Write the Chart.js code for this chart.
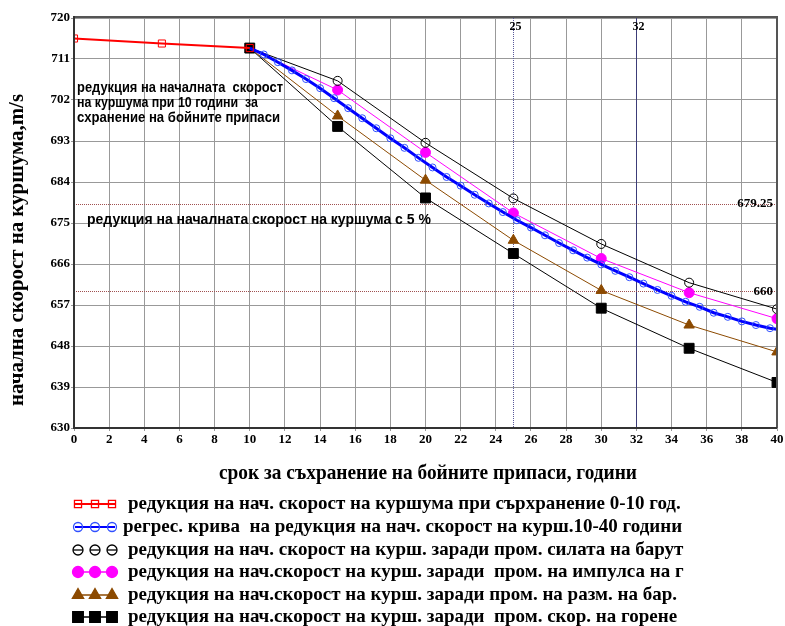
<!DOCTYPE html>
<html><head><meta charset="utf-8">
<script src="https://cdn.jsdelivr.net/npm/chart.js@4/dist/chart.umd.min.js"></script>
<style>html,body{margin:0;padding:0;background:#fff;overflow:hidden}</style>
</head><body>
<canvas id="c" width="785" height="626"></canvas>
<script>
// ---- data ----
const xTickStep = 2;            // x tick labels 0,2,...,40
const yTickStep = 9;            // y tick labels 630,639,...,720
const xMin = 0, xMax = 40, yMin = 630, yMax = 720;

const redX = [0, 5, 10];
const redY = [715.5, 714.4, 713.4];

const blueX = [10,10.8,11.6,12.4,13.2,14,14.8,15.6,16.4,17.2,18,18.8,19.6,20.4,21.2,22,22.8,23.6,24.4,25.2,26,26.8,27.6,28.4,29.2,30,30.8,31.6,32.4,33.2,34,34.8,35.6,36.4,37.2,38,38.8,39.6,40];
const blueY = [713.4,712.0,710.3,708.5,706.6,704.6,702.4,700.2,698.0,695.8,693.6,691.5,689.3,687.2,685.1,683.2,681.2,679.3,677.4,675.6,674.0,672.3,670.6,669.0,667.4,665.9,664.5,663.1,661.7,660.3,659.0,657.7,656.6,655.3,654.4,653.4,652.6,651.9,651.7];

const yearsX  = [10, 15, 20, 25, 30, 35, 40];
const powderY  = [713.4, 706.2, 692.6, 680.4, 670.4, 661.9, 656.1];
const impulseY = [713.4, 704.2, 690.5, 677.2, 667.2, 659.7, 654.0];
const sizeY    = [713.4, 698.5, 684.4, 671.2, 660.2, 652.6, 646.7];
const burnY    = [713.4, 696.2, 680.5, 668.3, 656.3, 647.5, 640.0];

const refVX = [25, 32];
const refVLabels = ['25', '32'];
const refHY = [679.25, 660];
const refHLabels = ['679.25', '660'];

const legendLabels = [
  'редукция на нач. скорост на куршума при сърхранение 0-10 год.',
  'регрес. крива  на редукция на нач. скорост на курш.10-40 години',
  'редукция на нач. скорост на курш. заради пром. силата на барут',
  'редукция на нач.скорост на курш. заради  пром. на импулса на г',
  'редукция на нач.скорост на курш. заради пром. на разм. на бар.',
  'редукция на нач.скорост на курш. заради  пром. скор. на горене'
];
const noteLines = ['редукция на началната  скорост', 'на куршума при 10 години  за', 'схранение на бойните припаси'];
const note5 = 'редукция на началната скорост на куршума с 5 %';
const xTitle = 'срок за съхранение на бойните припаси, години';
const yTitle = 'начална скорост на куршума,m/s';

// ---- build ----
const zip = (xs, ys) => xs.map((x, i) => ({x, y: ys[i]}));
const SERIF = '"Liberation Serif", "Times New Roman", serif';
const SANS = '"Liberation Sans", Arial, sans-serif';
const BROWN = '#8c4a00';

const skipFirst = r => (ctx => ctx.dataIndex === 0 ? 0 : r);

const datasets = [
  {label: legendLabels[0], data: zip(redX, redY), borderColor: '#ff0000', borderWidth: 2,
   pointStyle: 'rect', pointRadius: 5, pointBorderColor: '#ff0000', pointBackgroundColor: 'rgba(0,0,0,0)', pointBorderWidth: 1},
  {label: legendLabels[1], data: zip(blueX, blueY), borderColor: '#0000ff', borderWidth: 3,
   pointStyle: 'circle', pointRadius: ctx => (ctx.dataIndex === 0 || ctx.dataIndex === blueX.length - 1) ? 0 : 3.5,
   pointBorderColor: '#3050ff', pointBackgroundColor: 'rgba(0,0,0,0)', pointBorderWidth: 1},
  {label: legendLabels[2], data: zip(yearsX, powderY), borderColor: '#000', borderWidth: 1,
   pointStyle: 'circle', pointRadius: skipFirst(4.5), pointBorderColor: '#000', pointBackgroundColor: 'rgba(0,0,0,0)', pointBorderWidth: 1},
  {label: legendLabels[3], data: zip(yearsX, impulseY), borderColor: '#ff00ff', borderWidth: 1,
   pointStyle: 'circle', pointRadius: skipFirst(5), pointBorderColor: '#ff00ff', pointBackgroundColor: '#ff00ff', pointBorderWidth: 1},
  {label: legendLabels[4], data: zip(yearsX, sizeY), borderColor: BROWN, borderWidth: 1,
   pointStyle: 'triangle', pointRadius: skipFirst(6), pointBorderColor: BROWN, pointBackgroundColor: BROWN, pointBorderWidth: 1},
  {label: legendLabels[5], data: zip(yearsX, burnY), borderColor: '#000', borderWidth: 1,
   pointStyle: 'rect', pointRadius: 7, pointBorderColor: '#000', pointBackgroundColor: '#000', pointBorderWidth: 1}
];
const legendRadius = [5, 4.5, 5, 5.5, 6.5, 7.5];

const extras = {
  id: 'extras',
  beforeDatasetsDraw(chart) {
    const {ctx, chartArea: a, scales: {x, y}} = chart;
    ctx.save();
    refVX.forEach((v, i) => {
      const px = Math.round(x.getPixelForValue(v)) + 0.5;
      ctx.beginPath();
      ctx.strokeStyle = i === 0 ? '#5a5a9a' : '#3c3c78';
      ctx.lineWidth = 1;
      ctx.setLineDash(i === 0 ? [1, 1] : []);
      ctx.moveTo(px, a.top); ctx.lineTo(px, a.bottom); ctx.stroke();
    });
    refHY.forEach(v => {
      const py = Math.round(y.getPixelForValue(v)) + 0.5;
      ctx.beginPath();
      ctx.strokeStyle = '#a05050';
      ctx.lineWidth = 1;
      ctx.setLineDash([1, 1]);
      ctx.moveTo(a.left, py); ctx.lineTo(a.right, py); ctx.stroke();
    });
    ctx.setLineDash([]);
    ctx.restore();
  },
  afterDraw(chart) {
    const {ctx, chartArea: a, scales: {x, y}} = chart;
    ctx.save();
    // frame
    ctx.strokeStyle = '#555';
    ctx.lineWidth = 2;
    ctx.beginPath();
    ctx.moveTo(a.left, a.top - 1); ctx.lineTo(a.right, a.top - 1); ctx.lineTo(a.right, a.bottom);
    ctx.stroke();
    ctx.strokeStyle = '#333';
    ctx.beginPath();
    ctx.moveTo(a.left, a.top - 2); ctx.lineTo(a.left, a.bottom); ctx.lineTo(a.right, a.bottom);
    ctx.stroke();

    ctx.fillStyle = '#000';
    ctx.textBaseline = 'middle';
    ctx.font = 'bold 12px ' + SERIF;
    ctx.textAlign = 'center';
    refVX.forEach((v, i) => ctx.fillText(refVLabels[i], x.getPixelForValue(v) + 2, a.top + 9));
    ctx.font = 'bold 13px ' + SERIF;
    ctx.textAlign = 'right';
    refHY.forEach((v, i) => ctx.fillText(refHLabels[i], a.right - 4, y.getPixelForValue(v)));

    // notes
    ctx.textAlign = 'left';
    ctx.font = 'bold 14px ' + SANS;
    const noteY = [88, 103, 118];
    const noteW = [206, 181, 203];
    noteLines.forEach((t, i) => ctx.fillText(t, 77, noteY[i], noteW[i]));
    ctx.fillText(note5, 87, 220, 348);

    // axis titles
    ctx.font = 'bold 21px ' + SERIF;
    ctx.textAlign = 'center';
    ctx.fillText(xTitle, 428, 474, 418);
    ctx.save();
    ctx.translate(18, 250);
    ctx.rotate(-Math.PI / 2);
    ctx.fillText(yTitle, 0, 0, 312);
    ctx.restore();

    // legend
    const rowY = [504, 527, 550, 572, 595, 617];
    const textX = [128, 123, 128, 128, 128, 128];
    const textR = [687, 690, 687, 685, 682, 685];
    const mx = [78, 95, 112];
    ctx.textAlign = 'left';
    ctx.font = 'bold 19px ' + SERIF;
    datasets.forEach((d, i) => {
      const yy = rowY[i];
      if (i !== 2) {
        ctx.beginPath();
        ctx.strokeStyle = d.borderColor;
        ctx.lineWidth = (i === 0 || i === 1) ? 2 : 1.5;
        ctx.moveTo(75, yy); ctx.lineTo(115, yy); ctx.stroke();
      }
      mx.forEach(px => {
        ctx.fillStyle = d.pointBackgroundColor;
        ctx.strokeStyle = d.pointBorderColor;
        ctx.lineWidth = 1.3;
        Chart.helpers.drawPoint(ctx, {pointStyle: d.pointStyle, radius: legendRadius[i], rotation: 0, borderWidth: 1.3}, px, yy);
        if (i === 2) {
          ctx.beginPath(); ctx.moveTo(px - 5, yy); ctx.lineTo(px + 5, yy); ctx.stroke();
        }
      });
      ctx.fillStyle = '#000';
      ctx.fillText(legendLabels[i], textX[i], yy, textR[i] - textX[i]);
    });
    ctx.restore();
  }
};

new Chart(document.getElementById('c'), {
  type: 'line',
  data: {datasets},
  options: {
    responsive: false,
    devicePixelRatio: 1,
    animation: false,
    events: [],
    layout: {padding: {left: 0, top: 18, right: 7, bottom: 174}},
    plugins: {legend: {display: false}, tooltip: {enabled: false}},
    elements: {line: {tension: 0}},
    scales: {
      x: {
        type: 'linear', min: xMin, max: xMax,
        afterFit: s => { s.height = 24; },
        ticks: {stepSize: xTickStep, color: '#000', padding: 1, maxRotation: 0,
                font: {family: SERIF, weight: 'bold', size: 13}},
        grid: {color: '#999', lineWidth: 1, tickLength: 3},
        border: {display: false}
      },
      y: {
        min: yMin, max: yMax,
        afterFit: s => { s.width = 74; },
        ticks: {stepSize: yTickStep, color: '#000', padding: 1,
                font: {family: SERIF, weight: 'bold', size: 13}},
        grid: {color: '#999', lineWidth: 1, tickLength: 3},
        border: {display: false}
      }
    }
  },
  plugins: [extras]
});
</script>
</body></html>
